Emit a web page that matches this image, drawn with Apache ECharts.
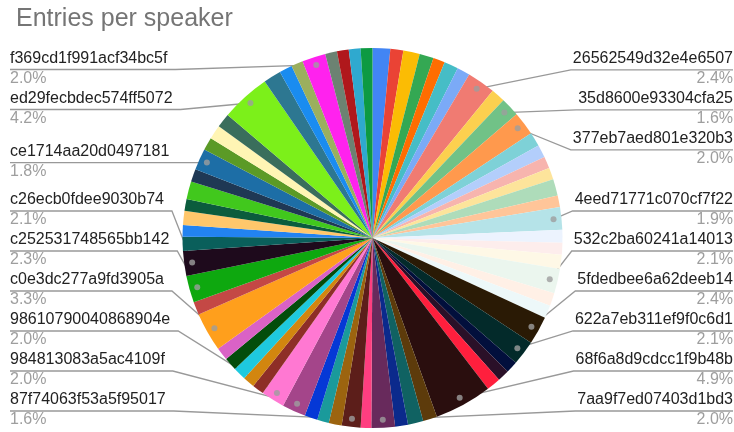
<!DOCTYPE html>
<html>
<head>
<meta charset="utf-8">
<script src="https://cdn.jsdelivr.net/npm/echarts@6/dist/echarts.min.js"></script>
<style>
  html, body { margin: 0; padding: 0; background: #ffffff; }
  #chart { width: 734px; height: 432px; }
</style>
</head>
<body>
<div id="chart"></div>
<script>
// Speakers in slice order (clockwise from 12 o'clock); only some carry a visible label.
const speakers = [
  '', '', '', '', '', '', '',
  '26562549d32e4e6507', '', '35d8600e93304cfa25', '377eb7aed801e320b3',
  '', '', '', '', '', '',
  '4eed71771c070cf7f22', '', '', '', '532c2ba60241a14013', '', '',
  '5fdedbee6a62deeb14', '622a7eb311ef9f0c6d1', '', '', '', '68f6a8d9cdcc1f9b48b',
  '', '', '', '7aa9f7ed07403d1bd3', '', '87f74063f53a5f95017', '', '', '',
  '984813083a5ac4109f', '98610790040868904e', '', '', '', '', '',
  'c0e3dc277a9fd3905a', '', 'c252531748565bb142', 'c26ecb0fdee9030b74',
  '', '', '', '', '', '', 'ce1714aa20d0497181', '', '', '', 'ed29fecbdec574ff5072',
  '', '', '', 'f369cd1f991acf34bc5f', '', '', '', ''
];

// Share of entries per speaker (percent).
const shares = [
  1.5, 1.1, 1.4, 1.2, 1.0, 1.2, 1.1,
  2.4, 1.2, 1.6, 2.0,
  1.2, 1.1, 1.0, 1.0, 1.4, 1.0,
  1.9, 1.1, 1.0, 1.2, 2.1, 1.1, 1.1,
  2.4, 2.1, 1.0, 1.0, 1.2, 4.9,
  1.2, 1.3, 1.1, 2.0, 0.9, 1.6, 1.1, 1.0, 1.1,
  2.0, 2.0, 1.0, 1.0, 1.1, 1.1, 1.1,
  3.3, 1.1, 2.3, 2.1,
  1.2, 1.0, 1.2, 1.0, 1.5, 1.1, 1.8, 1.1, 1.2, 1.2, 4.2,
  1.5, 1.1, 1.0, 2.0, 1.0, 1.0, 1.0, 1.0
];

// Slice colours, same order as the data.
const palette = [
  '#4285F4', '#EA4335', '#FBBC04', '#34A853', '#FF6D01', '#46BDC6', '#7BAAF7',
  '#F07B72', '#FCD04F', '#71C287', '#FF994D',
  '#7ED1D7', '#B3CEFB', '#F7B4AE', '#FDE49B', '#AEDCBA', '#FFC599',
  '#B5E3E8', '#ECF3FE', '#FDEDEC', '#FEF8E6', '#EBF6EE', '#FFF0E6', '#EDF8F9',
  '#2A1A05', '#032A2A', '#020F3C', '#2A1028', '#FF1F3D', '#2A0E0E',
  '#5D3B0B', '#106262', '#0B2A8C', '#682A5C', '#FF3E80', '#5C1E1A', '#9C640F', '#1A9A9B', '#0538D6',
  '#A4458A', '#FF78D2', '#8E2E27', '#D2860F', '#1EC9DE', '#034D0B', '#DA62C6',
  '#FF9F1C', '#C44845', '#0EA80F', '#1E0A1C',
  '#0A5F5B', '#2283F1', '#FFC76B', '#0B5C3D', '#41C81D', '#1F3854', '#1D6EA6', '#5B9A26', '#FFF5B4', '#3A6E5C', '#7CF01A',
  '#2D7791', '#1A8CF0', '#9BAF5E', '#FF22EE', '#6C8272', '#B0181C', '#2FA9CF', '#0D9A42'
];

const FONT = '"Liberation Sans", Arial, Helvetica, sans-serif';
const CX = 372.5, CY = 238, R = 190, DOT_R = 182;
const LEFT_X = 10, RIGHT_X = 733;
const SLOT_GAP = 40, SLOT_TOP = 69.5, SLOT_BOTTOM = 411;

const total = shares.reduce((s, v) => s + v, 0);
const cumBefore = [];
shares.reduce((acc, v, i) => { cumBefore[i] = acc; return acc + v; }, 0);
const midValue = i => cumBefore[i] + shares[i] / 2;
const midAngle = i => midValue(i) / total * 2 * Math.PI;

// Anchor dot inside each labelled slice, on its bisector.
function dotPoint(i) {
  const a = midAngle(i);
  return [CX + DOT_R * Math.sin(a), CY - DOT_R * Math.cos(a)];
}

// Stack labels on each side: start from the dot height, then spread
// overlapping groups evenly around their mean within the vertical bounds.
function resolveSide(items) {
  items.sort((a, b) => a.nat - b.nat);
  const clusters = items.map(it => ({ members: [it], start: 0 }));
  const place = c => {
    const n = c.members.length;
    const mean = c.members.reduce((s, m) => s + m.nat, 0) / n;
    let start = mean - (n - 1) * SLOT_GAP / 2;
    start = Math.min(start, SLOT_BOTTOM - (n - 1) * SLOT_GAP);
    start = Math.max(start, SLOT_TOP);
    c.start = start;
  };
  clusters.forEach(place);
  let merged = true;
  while (merged) {
    merged = false;
    for (let i = 1; i < clusters.length; i++) {
      const a = clusters[i - 1], b = clusters[i];
      if (b.start < a.start + a.members.length * SLOT_GAP - 0.01) {
        a.members = a.members.concat(b.members);
        clusters.splice(i, 1);
        place(a);
        merged = true;
        break;
      }
    }
  }
  clusters.forEach(c => c.members.forEach((m, k) => { m.y = c.start + k * SLOT_GAP; }));
}

const slots = {};
const leftItems = [], rightItems = [];
speakers.forEach((name, i) => {
  if (!name) return;
  const a = midAngle(i);
  const item = { index: i, nat: dotPoint(i)[1], side: a < Math.PI ? 'right' : 'left' };
  (item.side === 'right' ? rightItems : leftItems).push(item);
  slots[i] = item;
});
resolveSide(leftItems);
resolveSide(rightItems);

const pieData = shares.map((v, i) => ({
  value: v,
  name: speakers[i],
  itemStyle: { color: palette[i] },
  label: { show: !!speakers[i] },
  labelLine: { show: !!speakers[i] }
}));

const dotData = speakers
  .map((name, i) => name ? [DOT_R, midValue(i)] : null)
  .filter(d => d !== null);

const chart = echarts.init(document.getElementById('chart'), null, { renderer: 'canvas' });
chart.setOption({
  animation: false,
  backgroundColor: '#ffffff',
  title: {
    text: 'Entries per speaker',
    left: 11,
    top: 2,
    textStyle: { fontFamily: FONT, fontSize: 25, fontWeight: 'normal', color: '#757575' }
  },
  polar: { center: [CX, CY], radius: R },
  angleAxis: {
    type: 'value', min: 0, max: total, startAngle: 90, clockwise: true,
    axisLine: { show: false }, axisTick: { show: false },
    axisLabel: { show: false }, splitLine: { show: false }
  },
  radiusAxis: {
    type: 'value', min: 0, max: R,
    axisLine: { show: false }, axisTick: { show: false },
    axisLabel: { show: false }, splitLine: { show: false }
  },
  series: [
    {
      type: 'pie',
      center: [CX, CY],
      radius: R,
      startAngle: 90,
      clockwise: true,
      avoidLabelOverlap: false,
      percentPrecision: 1,
      silent: true,
      emphasis: { disabled: true },
      itemStyle: { borderWidth: 0 },
      label: {
        position: 'outside',
        formatter: p => '{n|' + p.name + '}\n{p|' + p.percent.toFixed(1) + '%}',
        rich: {
          n: { fontFamily: FONT, fontSize: 16, color: '#222222', lineHeight: 22 },
          p: { fontFamily: FONT, fontSize: 16, color: '#9e9e9e', lineHeight: 18 }
        }
      },
      labelLine: {
        show: true,
        length: 10,
        length2: 10,
        lineStyle: { color: '#999999', width: 1.3 }
      },
      labelLayout: function (p) {
        const slot = slots[p.dataIndex];
        if (!slot) return {};
        const w = p.labelRect.width;
        const dot = dotPoint(p.dataIndex);
        const L = slot.y;
        if (slot.side === 'right') {
          return {
            x: RIGHT_X, y: L - 22, align: 'right', verticalAlign: 'top',
            labelLinePoints: [dot, [RIGHT_X - w - 2, L], [RIGHT_X, L]]
          };
        }
        return {
          x: LEFT_X, y: L - 22, align: 'left', verticalAlign: 'top',
          labelLinePoints: [dot, [LEFT_X + w + 8, L], [LEFT_X, L]]
        };
      },
      data: pieData
    },
    {
      type: 'scatter',
      coordinateSystem: 'polar',
      silent: true,
      z: 5,
      symbol: 'circle',
      symbolSize: 6,
      itemStyle: { color: '#9e9e9e' },
      data: dotData
    }
  ]
});
</script>
</body>
</html>
